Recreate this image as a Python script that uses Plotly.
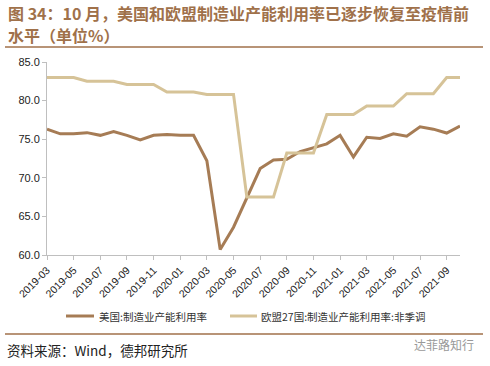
import plotly.graph_objects as go

months = ["2019-03","2019-04","2019-05","2019-06","2019-07","2019-08","2019-09","2019-10",
          "2019-11","2019-12","2020-01","2020-02","2020-03","2020-04","2020-05","2020-06",
          "2020-07","2020-08","2020-09","2020-10","2020-11","2020-12","2021-01","2021-02",
          "2021-03","2021-04","2021-05","2021-06","2021-07","2021-08","2021-09","2021-10"]

us_util = [76.3, 75.7, 75.7, 75.85, 75.5, 76.0, 75.5, 74.9,
           75.5, 75.6, 75.5, 75.5, 72.2, 60.7, 63.6, 67.3,
           71.2, 72.3, 72.4, 73.4, 73.9, 74.4, 75.5, 72.7,
           75.25, 75.1, 75.7, 75.4, 76.6, 76.3, 75.8, 76.7]

eu_util = [83.0, 83.0, 83.0, 82.5, 82.5, 82.5, 82.1, 82.1,
           82.1, 81.1, 81.1, 81.1, 80.8, 80.8, 80.8, 67.5,
           67.5, 67.5, 73.2, 73.2, 73.2, 78.2, 78.2, 78.2,
           79.3, 79.3, 79.3, 80.9, 80.9, 80.9, 83.0, 83.0]

tick_labels = months[::2]

us_name = "美国:制造业产能利用率"
eu_name = "欧盟27国:制造业产能利用率:非季调"

US_COLOR = "#A67C55"
EU_COLOR = "#D6C398"
TITLE_COLOR = "#A0714A"

fig = go.Figure()
fig.add_trace(go.Scatter(x=months, y=us_util, mode="lines", name=us_name,
                         line=dict(color=US_COLOR, width=3)))
fig.add_trace(go.Scatter(x=months, y=eu_util, mode="lines", name=eu_name,
                         line=dict(color=EU_COLOR, width=3)))

W, H = 490, 366
L, R, T, B = 47, 30, 62, 111
PW, PH = W - L - R, H - T - B


def px_x(x):
    return (x - L) / PW


def px_y(y):
    return (H - B - y) / PH


fig.update_layout(
    width=W, height=H,
    margin=dict(l=L, r=R, t=T, b=B, autoexpand=False),
    paper_bgcolor="white", plot_bgcolor="white",
    font=dict(family="Liberation Sans, Arial, Noto Sans CJK SC", size=11, color="#222"),
    showlegend=False,
    xaxis=dict(type="category", range=[0, len(months) - 1],
               tickmode="array", tickvals=tick_labels, ticktext=tick_labels,
               tickangle=-45, tickfont=dict(size=10.5, color="#222"),
               showline=True, linecolor="#BFBFBF", linewidth=1,
               ticks="outside", ticklen=4, tickcolor="#BFBFBF",
               showgrid=False, zeroline=False),
    yaxis=dict(range=[60, 85], tickvals=[60, 65, 70, 75, 80, 85], tickformat=".1f",
               tickfont=dict(size=11, color="#222"),
               showline=True, linecolor="#BFBFBF", linewidth=1,
               ticks="outside", ticklen=4, tickcolor="#BFBFBF",
               showgrid=False, zeroline=False),
)

# legend drawn manually for exact placement
for (x0, x1, xt, name, color) in [(66, 94, 97, us_name, US_COLOR),
                                  (230, 257, 259, eu_name, EU_COLOR)]:
    fig.add_shape(type="line", xref="paper", yref="paper",
                  x0=px_x(x0), x1=px_x(x1), y0=px_y(316), y1=px_y(316),
                  line=dict(color=color, width=3))
    fig.add_annotation(text=name, xref="paper", yref="paper",
                       x=px_x(xt), xanchor="left", y=px_y(316), yanchor="middle",
                       showarrow=False,
                       font=dict(family="Noto Sans CJK SC", size=10.5, color="#333"))

title1 = "图 34：10 月，美国和欧盟制造业产能利用率已逐步恢复至疫情前"
title2 = "水平（单位%）"
for txt, ypx in [(title1, 13), (title2, 35)]:
    fig.add_annotation(text="<b>" + txt + "</b>", xref="paper", yref="paper",
                       x=px_x(6), xanchor="left",
                       y=px_y(ypx), yanchor="middle",
                       showarrow=False,
                       font=dict(family="Noto Sans CJK SC", size=16, color=TITLE_COLOR))

for ypx in (47, 334):
    fig.add_shape(type="line", xref="paper", yref="paper",
                  x0=px_x(5), x1=px_x(483), y0=px_y(ypx), y1=px_y(ypx),
                  line=dict(color=TITLE_COLOR, width=1.5))

fig.add_annotation(text="资料来源：Wind，德邦研究所", xref="paper", yref="paper",
                   x=px_x(5), xanchor="left", y=px_y(350), yanchor="middle",
                   showarrow=False,
                   font=dict(family="Noto Sans CJK SC", size=13.5, color="#222"))
fig.add_annotation(text="达菲路知行", xref="paper", yref="paper",
                   x=px_x(476), xanchor="right", y=px_y(344), yanchor="middle",
                   showarrow=False,
                   font=dict(family="Noto Sans CJK SC", size=12, color="#999"))

fig.write_html("out.html", config={"displayModeBar": False},
               post_script="document.body.style.margin='0';")
